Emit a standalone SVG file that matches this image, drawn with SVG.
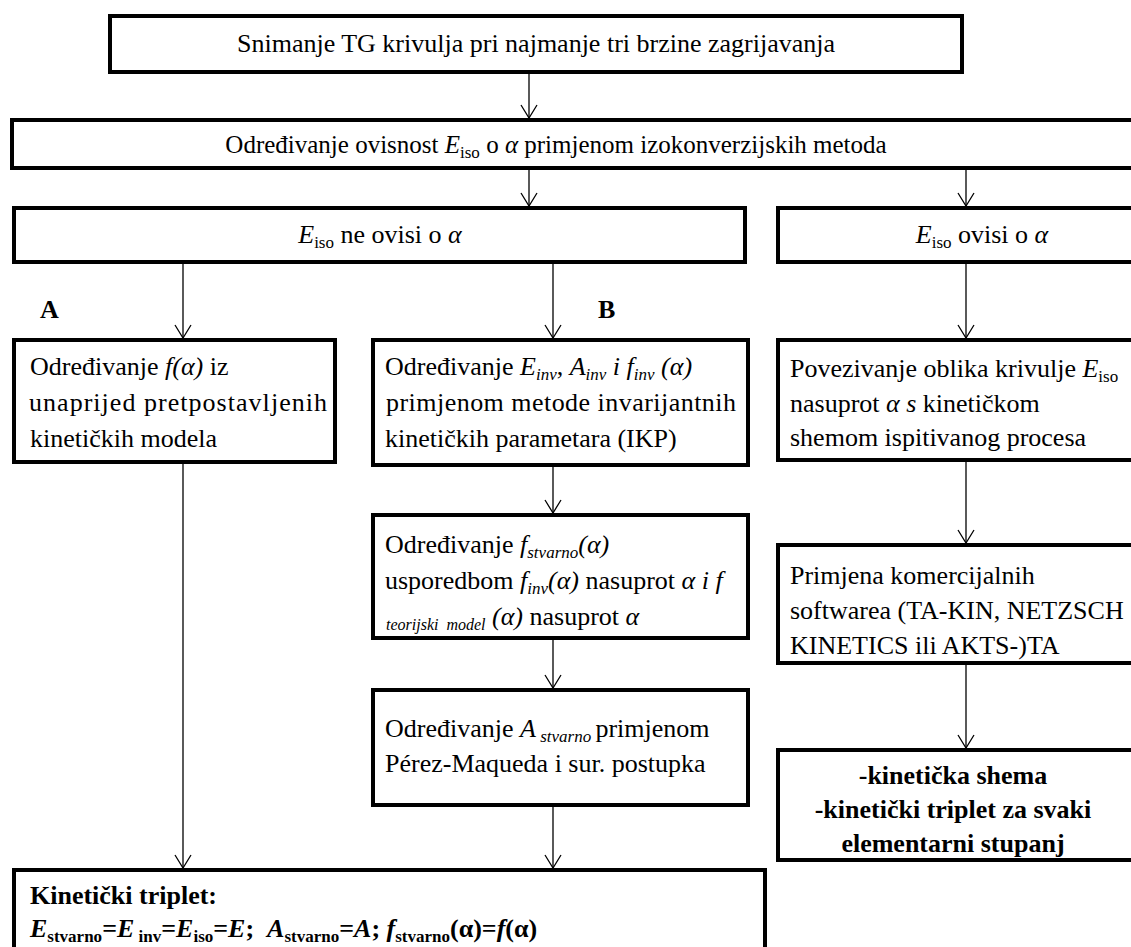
<svg xmlns="http://www.w3.org/2000/svg" width="1131" height="947" viewBox="0 0 1131 947">
<style>
.box{fill:#fff;stroke:#000;stroke-width:4}
.t{font-family:"Liberation Serif","Times New Roman",serif;font-size:26px;fill:#000}
.b{font-weight:bold}
.i{font-style:italic}
.s{font-size:17px}
.xs{font-size:16px;word-spacing:4px}
.c{stroke:#000;stroke-width:1.3;fill:none}
</style>
<defs>
<marker id="ah" markerUnits="userSpaceOnUse" orient="auto" markerWidth="30" markerHeight="30" refX="0" refY="0" viewBox="-15 -15 30 30" overflow="visible">
<path d="M-13,-8 L0,0 L-13,8" fill="none" stroke="#000" stroke-width="1.3"/>
</marker>
</defs>
<rect width="1131" height="947" fill="#fff"/>
<g id="connectors">
<line class="c" x1="529" y1="74" x2="529" y2="118" marker-end="url(#ah)"/>
<line class="c" x1="529" y1="170" x2="529" y2="206" marker-end="url(#ah)"/>
<line class="c" x1="966" y1="170" x2="966" y2="206" marker-end="url(#ah)"/>
<line class="c" x1="183" y1="264" x2="183" y2="338" marker-end="url(#ah)"/>
<line class="c" x1="553" y1="264" x2="553" y2="338" marker-end="url(#ah)"/>
<line class="c" x1="966" y1="264" x2="966" y2="338" marker-end="url(#ah)"/>
<line class="c" x1="553" y1="467" x2="553" y2="513" marker-end="url(#ah)"/>
<line class="c" x1="553" y1="640" x2="553" y2="688" marker-end="url(#ah)"/>
<line class="c" x1="966" y1="462" x2="966" y2="543" marker-end="url(#ah)"/>
<line class="c" x1="966" y1="665" x2="966" y2="748" marker-end="url(#ah)"/>
<line class="c" x1="183" y1="464" x2="183" y2="868" marker-end="url(#ah)"/>
<line class="c" x1="553" y1="807" x2="553" y2="868" marker-end="url(#ah)"/>
</g>
<g id="n1">
<rect class="box" x="110" y="16" width="852" height="56"/>
<text class="t" x="536" y="52" text-anchor="middle">Snimanje TG krivulja pri najmanje tri brzine zagrijavanja</text>
</g>
<g id="n2">
<rect class="box" x="12" y="120" width="1130" height="48"/>
<text class="t" x="556" y="153" text-anchor="middle" style="font-size:25px">Određivanje ovisnost <tspan class="i">E</tspan><tspan class="s" dy="5">iso</tspan><tspan dy="-5"> o </tspan><tspan class="i">α</tspan> primjenom izokonverzijskih metoda</text>
</g>
<g id="n3">
<rect class="box" x="14" y="208" width="731" height="54"/>
<text class="t" x="380" y="243" text-anchor="middle"><tspan class="i">E</tspan><tspan class="s" dy="5">iso</tspan><tspan dy="-5"> ne ovisi o </tspan><tspan class="i">α</tspan></text>
</g>
<g id="n4">
<rect class="box" x="778" y="208" width="400" height="54"/>
<text class="t" x="982" y="243" text-anchor="middle"><tspan class="i">E</tspan><tspan class="s" dy="5">iso</tspan><tspan dy="-5"> ovisi o </tspan><tspan class="i">α</tspan></text>
</g>
<g id="labelA"><text class="t b" x="40" y="318">A</text></g>
<g id="labelB"><text class="t b" x="598" y="318">B</text></g>
<g id="nA">
<rect class="box" x="14" y="340" width="321" height="122"/>
<text class="t" x="30" y="375">Određivanje <tspan class="i">f(α)</tspan> iz</text>
<text class="t" x="29" y="411" textLength="298" lengthAdjust="spacing">unaprijed pretpostavljenih</text>
<text class="t" x="30" y="447">kinetičkih modela</text>
</g>
<g id="nB1">
<rect class="box" x="373" y="340" width="375" height="125"/>
<text class="t" x="385" y="375">Određivanje <tspan class="i">E</tspan><tspan class="s i" dy="5">inv</tspan><tspan dy="-5">, </tspan><tspan class="i">A</tspan><tspan class="s i" dy="5">inv</tspan><tspan class="i" dy="-5"> i  f</tspan><tspan class="s i" dy="5">inv</tspan><tspan class="i" dy="-5"> (α)</tspan></text>
<text class="t" x="386" y="411" textLength="350" lengthAdjust="spacing">primjenom metode invarijantnih</text>
<text class="t" x="385" y="447">kinetičkih parametara (IKP)</text>
</g>
<g id="nR1">
<rect class="box" x="778" y="340" width="360" height="120"/>
<text class="t" x="790" y="377">Povezivanje oblika krivulje <tspan class="i">E</tspan><tspan class="s" dy="5">iso</tspan></text>
<text class="t" x="790" y="412">nasuprot <tspan class="i">α s</tspan> kinetičkom</text>
<text class="t" x="790" y="446">shemom ispitivanog procesa</text>
</g>
<g id="nB2">
<rect class="box" x="373" y="515" width="375" height="123"/>
<text class="t" x="385" y="553">Određivanje <tspan class="i">f</tspan><tspan class="s i" dy="5">stvarno</tspan><tspan class="i" dy="-5">(α)</tspan></text>
<text class="t" x="385" y="589">usporedbom <tspan class="i">f</tspan><tspan class="s i" dy="5">inv</tspan><tspan class="i" dy="-5">(α)</tspan> nasuprot <tspan class="i">α i f</tspan></text>
<text class="t" x="386" y="625"><tspan class="xs i" dy="5">teorijski model</tspan><tspan class="i" dy="-5"> (α)</tspan> nasuprot <tspan class="i">α</tspan></text>
</g>
<g id="nB3">
<rect class="box" x="373" y="690" width="375" height="115"/>
<text class="t" x="385" y="737">Određivanje <tspan class="i">A</tspan><tspan class="s i" dy="5"> stvarno </tspan><tspan dy="-5">primjenom</tspan></text>
<text class="t" x="385" y="772">Pérez-Maqueda i sur. postupka</text>
</g>
<g id="nR2">
<rect class="box" x="778" y="545" width="360" height="118"/>
<text class="t" x="790" y="584">Primjena komercijalnih</text>
<text class="t" x="790" y="619">softwarea (TA-KIN, NETZSCH</text>
<text class="t" x="790" y="654">KINETICS ili AKTS-)TA</text>
</g>
<g id="nR3">
<rect class="box" x="778" y="750" width="360" height="110"/>
<text class="t b" x="953" y="784" text-anchor="middle">-kinetička shema</text>
<text class="t b" x="953" y="818" text-anchor="middle">-kinetički triplet za svaki</text>
<text class="t b" x="953" y="852" text-anchor="middle">elementarni stupanj</text>
</g>
<g id="nBottom">
<rect class="box" x="14" y="870" width="751" height="100"/>
<text class="t b" x="30" y="904">Kinetički triplet:</text>
<text class="t b" x="30" y="937" xml:space="preserve"><tspan class="i">E</tspan><tspan class="s" dy="5">stvarno</tspan><tspan dy="-5">=</tspan><tspan class="i">E</tspan><tspan class="s" dy="5"> inv</tspan><tspan dy="-5">=</tspan><tspan class="i">E</tspan><tspan class="s" dy="5">iso</tspan><tspan dy="-5">=</tspan><tspan class="i">E</tspan>;  <tspan class="i">A</tspan><tspan class="s" dy="5">stvarno</tspan><tspan dy="-5">=</tspan><tspan class="i">A</tspan>; <tspan class="i">f</tspan><tspan class="s" dy="5">stvarno</tspan><tspan dy="-5">(α)=</tspan><tspan class="i">f</tspan>(α)</text>
</g>
</svg>
